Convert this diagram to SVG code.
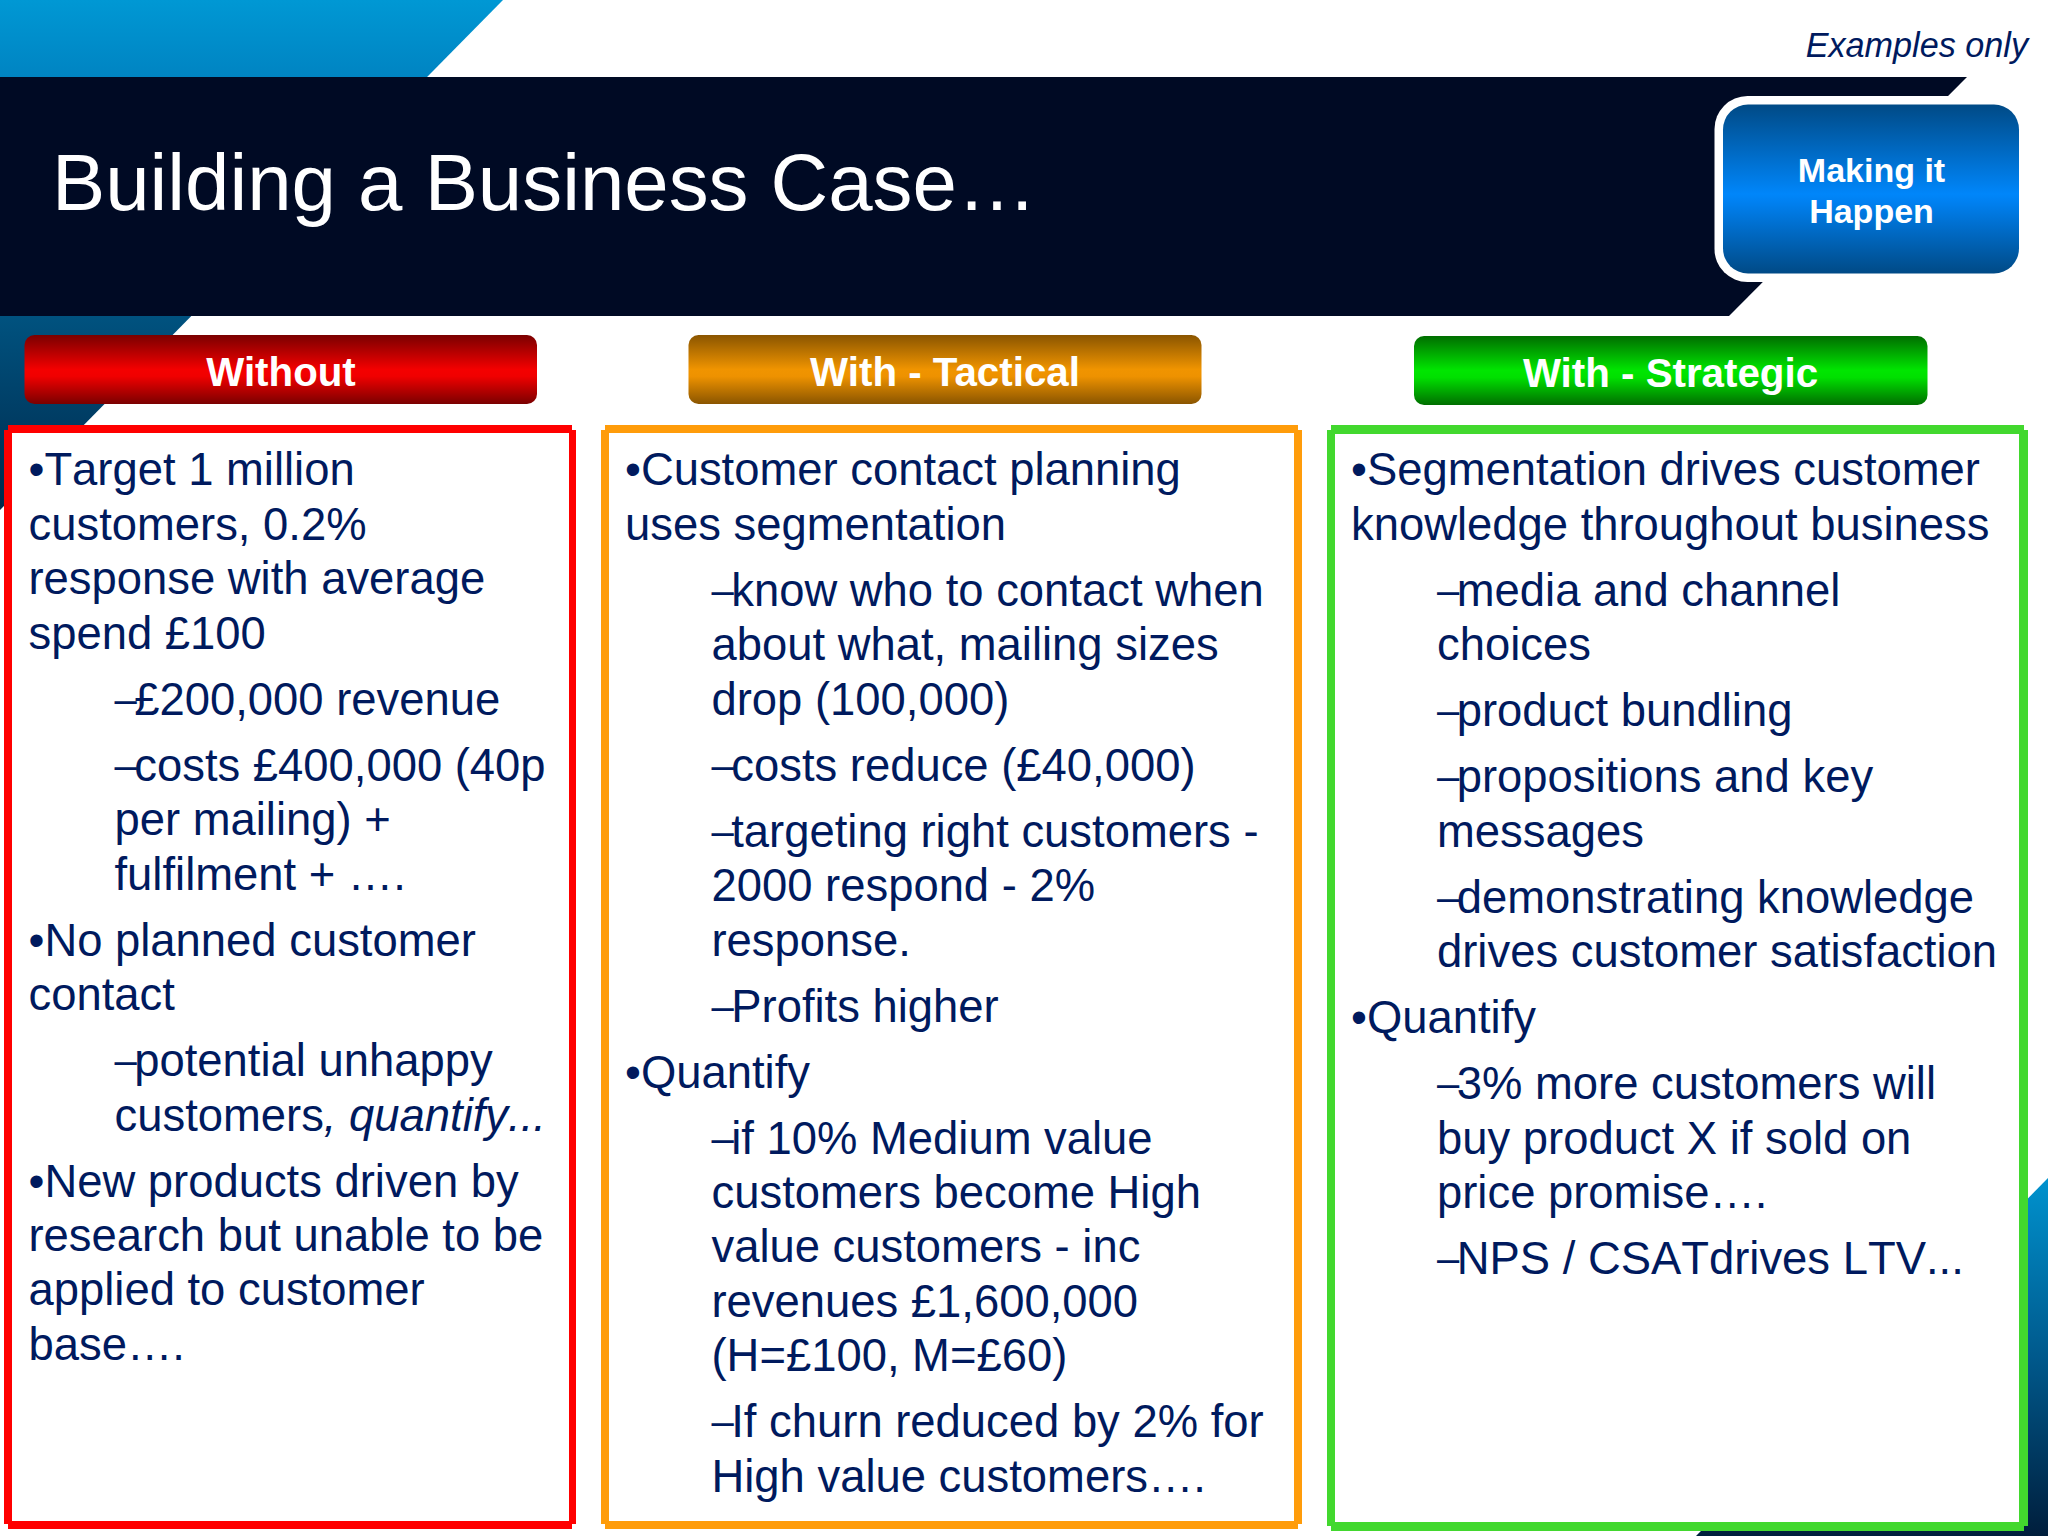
<svg xmlns="http://www.w3.org/2000/svg" width="2048" height="1536" viewBox="0 0 2048 1536">
<style>
text{font-family:"Liberation Sans",Arial,sans-serif}
.b{font-size:45.4px;fill:#001a5e;font-kerning:none;transform:translateY(-.7px)}
.d{font-size:40px;letter-spacing:-2.5px;baseline-shift:2.5px}
.q{font-style:italic}
.h{font-size:40.3px;font-weight:bold;fill:#fff;text-anchor:middle}
.m{font-size:34px;font-weight:bold;fill:#fff;text-anchor:middle}
</style>
<defs>
<linearGradient id="gTL" x1="0" y1="0" x2="0" y2="510" gradientUnits="userSpaceOnUse"><stop offset="0" stop-color="#0098d4"/><stop offset=".15" stop-color="#0084c2"/><stop offset=".62" stop-color="#00527f"/><stop offset="1" stop-color="#002a4c"/></linearGradient>
<linearGradient id="gBR" x1="0" y1="1178" x2="0" y2="1536" gradientUnits="userSpaceOnUse"><stop offset="0" stop-color="#0092ce"/><stop offset=".5" stop-color="#00598c"/><stop offset="1" stop-color="#001e3c"/></linearGradient>
<linearGradient id="gR" x1="0" y1="0" x2="0" y2="1"><stop offset="0" stop-color="#7a0000"/><stop offset=".5" stop-color="#f40000"/><stop offset=".6" stop-color="#f00000"/><stop offset="1" stop-color="#7a0000"/></linearGradient>
<linearGradient id="gO" x1="0" y1="0" x2="0" y2="1"><stop offset="0" stop-color="#8a5500"/><stop offset=".5" stop-color="#f09400"/><stop offset=".6" stop-color="#ee9200"/><stop offset="1" stop-color="#8a5500"/></linearGradient>
<linearGradient id="gG" x1="0" y1="0" x2="0" y2="1"><stop offset="0" stop-color="#006e00"/><stop offset=".5" stop-color="#00e600"/><stop offset=".6" stop-color="#00e000"/><stop offset="1" stop-color="#006e00"/></linearGradient>
<linearGradient id="gB" x1="0" y1="0" x2="0" y2="1"><stop offset="0" stop-color="#004a86"/><stop offset=".53" stop-color="#0086fa"/><stop offset=".58" stop-color="#0080f0"/><stop offset="1" stop-color="#004a86"/></linearGradient>
</defs>
<rect width="2048" height="1536" fill="#fff"/>
<g id="background">
<polygon points="0,0 503,0 0,510" fill="url(#gTL)"/>
<polygon points="2048,1178 2048,1536 1696,1536" fill="url(#gBR)"/>
<polygon points="0,77 1967,77 1729,316 0,316" fill="#000a24"/>
</g>
<g id="title"><text x="52" y="210" font-size="79.800" fill="#fff">Building a Business Case…</text></g>
<text id="note" x="2028" y="57" font-size="34.2" font-style="italic" fill="#001a5e" text-anchor="end">Examples only</text>
<g id="making-it-happen">
<rect x="1714.500" y="96" width="313" height="186" rx="33" fill="#fff"/>
<rect x="1723" y="104.500" width="296" height="169" rx="25" fill="url(#gB)"/>
<text class="m" x="1871.500" y="182">Making it</text>
<text class="m" x="1871.500" y="223">Happen</text>
</g>
<g id="head-without"><rect x="24.500" y="335" width="512.500" height="69" rx="10" fill="url(#gR)"/><text class="h" x="281" y="385.500">Without</text></g>
<g id="head-tactical"><rect x="688.500" y="335" width="513" height="69" rx="10" fill="url(#gO)"/><text class="h" x="945" y="385.500">With - Tactical</text></g>
<g id="head-strategic"><rect x="1414" y="336" width="513.500" height="69" rx="10" fill="url(#gG)"/><text class="h" x="1670.500" y="386.500">With - Strategic</text></g>

<g id="col-without">
<path fill="#ff0000" d="M8 425H572V430H576V1524H572V1529H8V1524H4V430H8Z"/>
<rect x="12" y="433" width="557" height="1088" fill="#fff"/>
<text class="b" x="28.500" y="486">•Target 1 million</text>
<text class="b" x="28.500" y="540.500">customers, 0.2%</text>
<text class="b" x="28.500" y="595">response with average</text>
<text class="b" x="28.500" y="649.500">spend £100</text>
<text class="b" x="114.500" y="715.500"><tspan class="d">–</tspan>£200,000 revenue</text>
<text class="b" x="114.500" y="781.500"><tspan class="d">–</tspan>costs £400,000 (40p</text>
<text class="b" x="114.500" y="836">per mailing) +</text>
<text class="b" x="114.500" y="890.400">fulfilment + ….</text>
<text class="b" x="28.500" y="956.400">•No planned customer</text>
<text class="b" x="28.500" y="1010.900">contact</text>
<text class="b" x="114.500" y="1076.900"><tspan class="d">–</tspan>potential unhappy</text>
<text class="b" x="114.500" y="1131.300">customers<tspan class="q">, quantify...</tspan></text>
<text class="b" x="28.500" y="1197.300">•New products driven by</text>
<text class="b" x="28.500" y="1251.800">research but unable to be</text>
<text class="b" x="28.500" y="1306.200">applied to customer</text>
<text class="b" x="28.500" y="1360.700">base….</text>
</g>

<g id="col-tactical">
<path fill="#ff9c0a" d="M605 425H1298V430H1302V1524H1298V1529H605V1524H601V430H605Z"/>
<rect x="609" y="433" width="685" height="1088" fill="#fff"/>
<text class="b" x="625" y="486">•Customer contact planning</text>
<text class="b" x="625" y="540.500">uses segmentation</text>
<text class="b" x="711.500" y="606.500"><tspan class="d">–</tspan>know who to contact when</text>
<text class="b" x="711.500" y="661">about what, mailing sizes</text>
<text class="b" x="711.500" y="715.400">drop (100,000)</text>
<text class="b" x="711.500" y="781.400"><tspan class="d">–</tspan>costs reduce (£40,000)</text>
<text class="b" x="711.500" y="847.400"><tspan class="d">–</tspan>targeting right customers -</text>
<text class="b" x="711.500" y="901.900">2000 respond - 2%</text>
<text class="b" x="711.500" y="956.300">response.</text>
<text class="b" x="711.500" y="1022.300"><tspan class="d">–</tspan>Profits higher</text>
<text class="b" x="625" y="1088.300">•Quantify</text>
<text class="b" x="711.500" y="1154.300"><tspan class="d">–</tspan>if 10% Medium value</text>
<text class="b" x="711.500" y="1208.800">customers become High</text>
<text class="b" x="711.500" y="1263.200">value customers - inc</text>
<text class="b" x="711.500" y="1317.700">revenues £1,600,000</text>
<text class="b" x="711.500" y="1372.100">(H=£100, M=£60)</text>
<text class="b" x="711.500" y="1438.100"><tspan class="d">–</tspan>If churn reduced by 2% for</text>
<text class="b" x="711.500" y="1492.600">High value customers….</text>
</g>

<g id="col-strategic">
<path fill="#42d82e" d="M1331 425H2024V430H2028V1526H2024V1531H1331V1526H1327V430H1331Z"/>
<rect x="1335" y="434" width="684" height="1088" fill="#fff"/>
<text class="b" x="1351" y="486">•Segmentation drives customer</text>
<text class="b" x="1351" y="540.500">knowledge throughout business</text>
<text class="b" x="1437" y="606.500"><tspan class="d">–</tspan>media and channel</text>
<text class="b" x="1437" y="661">choices</text>
<text class="b" x="1437" y="727"><tspan class="d">–</tspan>product bundling</text>
<text class="b" x="1437" y="793"><tspan class="d">–</tspan>propositions and key</text>
<text class="b" x="1437" y="847.400">messages</text>
<text class="b" x="1437" y="913.400"><tspan class="d">–</tspan>demonstrating knowledge</text>
<text class="b" x="1437" y="967.900">drives customer satisfaction</text>
<text class="b" x="1351" y="1033.900">•Quantify</text>
<text class="b" x="1437" y="1099.900"><tspan class="d">–</tspan>3% more customers will</text>
<text class="b" x="1437" y="1154.400">buy product X if sold on</text>
<text class="b" x="1437" y="1208.800">price promise….</text>
<text class="b" x="1437" y="1274.800"><tspan class="d">–</tspan>NPS / CSATdrives LTV...</text>
</g>
</svg>
